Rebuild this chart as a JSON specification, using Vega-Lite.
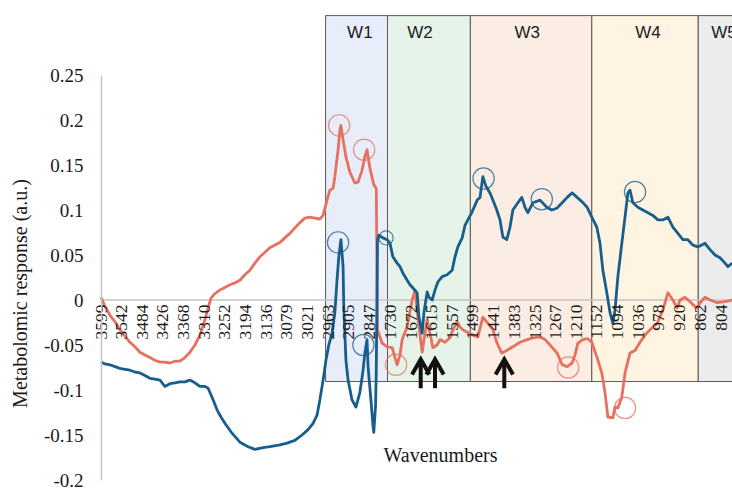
{
  "$schema": "https://vega.github.io/schema/vega-lite/v6.json",
  "width": 631,
  "height": 405,
  "autosize": "none",
  "padding": {"left": 101, "top": 75, "right": 0, "bottom": 10},
  "background": "white",
  "config": {"view": {"stroke": null}, "legend": {"disable": true}},
  "datasets": {
    "boxes": [
      {"name": "W1", "wn": 2970, "wn2": 1738, "v": 0.316, "v2": -0.0906},
      {"name": "W2", "wn": 1738, "wn2": 1506, "v": 0.316, "v2": -0.0906},
      {"name": "W3", "wn": 1506, "wn2": 1166, "v": 0.316, "v2": -0.0906},
      {"name": "W4", "wn": 1166, "wn2": 868, "v": 0.316, "v2": -0.0906},
      {"name": "W5", "wn": 868, "wn2": 700, "v": 0.316, "v2": -0.0906}
    ],
    "boxlabels": [
      {"name": "W1", "wn": 2874, "v": 0.297},
      {"name": "W2", "wn": 1647, "v": 0.297},
      {"name": "W3", "wn": 1347, "v": 0.297},
      {"name": "W4", "wn": 1009, "v": 0.297},
      {"name": "W5", "wn": 796, "v": 0.297}
    ],
    "zero": [{"wn": 3599, "v": 0}, {"wn": 740, "v": 0}],
    "arrows": [
      {"wn": 1645, "v": -0.082},
      {"wn": 1605, "v": -0.082},
      {"wn": 1411, "v": -0.082}
    ],
    "circles": [
      {"series": "s1", "wn": 2932, "v": 0.194},
      {"series": "s1", "wn": 2862, "v": 0.167},
      {"series": "s2", "wn": 2935, "v": 0.064},
      {"series": "s2", "wn": 2864, "v": -0.05},
      {"series": "s1", "wn": 1714, "v": -0.072},
      {"series": "s2", "wn": 1469, "v": 0.135},
      {"series": "s2", "wn": 1306, "v": 0.112},
      {"series": "s1", "wn": 1232, "v": -0.075},
      {"series": "s2", "wn": 1045, "v": 0.12},
      {"series": "s1", "wn": 1073, "v": -0.12}
    ],
    "smallcircles": [
      {"series": "s2", "wn": 1742, "v": 0.069}
    ],
    "spectra": [
      {"series": "s1", "wn": 3599, "v": 0.003},
      {"series": "s1", "wn": 3588, "v": -0.007},
      {"series": "s1", "wn": 3574, "v": -0.017},
      {"series": "s1", "wn": 3560, "v": -0.024},
      {"series": "s1", "wn": 3546, "v": -0.033},
      {"series": "s1", "wn": 3532, "v": -0.040},
      {"series": "s1", "wn": 3518, "v": -0.047},
      {"series": "s1", "wn": 3504, "v": -0.052},
      {"series": "s1", "wn": 3490, "v": -0.058},
      {"series": "s1", "wn": 3476, "v": -0.061},
      {"series": "s1", "wn": 3462, "v": -0.064},
      {"series": "s1", "wn": 3448, "v": -0.067},
      {"series": "s1", "wn": 3434, "v": -0.069},
      {"series": "s1", "wn": 3420, "v": -0.069},
      {"series": "s1", "wn": 3406, "v": -0.070},
      {"series": "s1", "wn": 3392, "v": -0.068},
      {"series": "s1", "wn": 3378, "v": -0.068},
      {"series": "s1", "wn": 3364, "v": -0.064},
      {"series": "s1", "wn": 3350, "v": -0.058},
      {"series": "s1", "wn": 3336, "v": -0.050},
      {"series": "s1", "wn": 3322, "v": -0.039},
      {"series": "s1", "wn": 3308, "v": -0.022},
      {"series": "s1", "wn": 3299, "v": -0.009},
      {"series": "s1", "wn": 3291, "v": 0.002},
      {"series": "s1", "wn": 3280, "v": 0.007},
      {"series": "s1", "wn": 3266, "v": 0.011},
      {"series": "s1", "wn": 3252, "v": 0.014},
      {"series": "s1", "wn": 3238, "v": 0.017},
      {"series": "s1", "wn": 3224, "v": 0.019},
      {"series": "s1", "wn": 3210, "v": 0.022},
      {"series": "s1", "wn": 3196, "v": 0.028},
      {"series": "s1", "wn": 3182, "v": 0.033},
      {"series": "s1", "wn": 3168, "v": 0.041},
      {"series": "s1", "wn": 3154, "v": 0.048},
      {"series": "s1", "wn": 3140, "v": 0.053},
      {"series": "s1", "wn": 3126, "v": 0.058},
      {"series": "s1", "wn": 3112, "v": 0.061},
      {"series": "s1", "wn": 3098, "v": 0.064},
      {"series": "s1", "wn": 3084, "v": 0.069},
      {"series": "s1", "wn": 3070, "v": 0.074},
      {"series": "s1", "wn": 3056, "v": 0.080},
      {"series": "s1", "wn": 3042, "v": 0.086},
      {"series": "s1", "wn": 3028, "v": 0.091},
      {"series": "s1", "wn": 3014, "v": 0.092},
      {"series": "s1", "wn": 3000, "v": 0.091},
      {"series": "s1", "wn": 2986, "v": 0.090},
      {"series": "s1", "wn": 2977, "v": 0.094},
      {"series": "s1", "wn": 2966, "v": 0.111},
      {"series": "s1", "wn": 2958, "v": 0.122},
      {"series": "s1", "wn": 2949, "v": 0.124},
      {"series": "s1", "wn": 2944, "v": 0.137},
      {"series": "s1", "wn": 2935, "v": 0.167},
      {"series": "s1", "wn": 2930, "v": 0.189},
      {"series": "s1", "wn": 2927, "v": 0.194},
      {"series": "s1", "wn": 2921, "v": 0.178},
      {"series": "s1", "wn": 2913, "v": 0.159},
      {"series": "s1", "wn": 2902, "v": 0.142},
      {"series": "s1", "wn": 2888, "v": 0.130},
      {"series": "s1", "wn": 2879, "v": 0.131},
      {"series": "s1", "wn": 2868, "v": 0.144},
      {"series": "s1", "wn": 2860, "v": 0.159},
      {"series": "s1", "wn": 2854, "v": 0.167},
      {"series": "s1", "wn": 2846, "v": 0.147},
      {"series": "s1", "wn": 2835, "v": 0.128},
      {"series": "s1", "wn": 2828, "v": 0.124},
      {"series": "s1", "wn": 1766, "v": -0.033},
      {"series": "s1", "wn": 1753, "v": -0.048},
      {"series": "s1", "wn": 1739, "v": -0.052},
      {"series": "s1", "wn": 1725, "v": -0.053},
      {"series": "s1", "wn": 1717, "v": -0.064},
      {"series": "s1", "wn": 1711, "v": -0.072},
      {"series": "s1", "wn": 1703, "v": -0.061},
      {"series": "s1", "wn": 1697, "v": -0.044},
      {"series": "s1", "wn": 1683, "v": -0.030},
      {"series": "s1", "wn": 1669, "v": 0.000},
      {"series": "s1", "wn": 1661, "v": 0.011},
      {"series": "s1", "wn": 1653, "v": -0.019},
      {"series": "s1", "wn": 1641, "v": -0.058},
      {"series": "s1", "wn": 1633, "v": -0.037},
      {"series": "s1", "wn": 1627, "v": -0.022},
      {"series": "s1", "wn": 1619, "v": -0.037},
      {"series": "s1", "wn": 1611, "v": -0.053},
      {"series": "s1", "wn": 1599, "v": -0.050},
      {"series": "s1", "wn": 1591, "v": -0.044},
      {"series": "s1", "wn": 1577, "v": -0.047},
      {"series": "s1", "wn": 1563, "v": -0.042},
      {"series": "s1", "wn": 1555, "v": -0.033},
      {"series": "s1", "wn": 1543, "v": -0.024},
      {"series": "s1", "wn": 1535, "v": -0.030},
      {"series": "s1", "wn": 1527, "v": -0.033},
      {"series": "s1", "wn": 1513, "v": -0.036},
      {"series": "s1", "wn": 1499, "v": -0.039},
      {"series": "s1", "wn": 1485, "v": -0.041},
      {"series": "s1", "wn": 1471, "v": -0.019},
      {"series": "s1", "wn": 1457, "v": -0.026},
      {"series": "s1", "wn": 1443, "v": -0.033},
      {"series": "s1", "wn": 1432, "v": -0.047},
      {"series": "s1", "wn": 1418, "v": -0.059},
      {"series": "s1", "wn": 1404, "v": -0.056},
      {"series": "s1", "wn": 1387, "v": -0.052},
      {"series": "s1", "wn": 1367, "v": -0.047},
      {"series": "s1", "wn": 1347, "v": -0.044},
      {"series": "s1", "wn": 1331, "v": -0.042},
      {"series": "s1", "wn": 1311, "v": -0.041},
      {"series": "s1", "wn": 1297, "v": -0.044},
      {"series": "s1", "wn": 1283, "v": -0.050},
      {"series": "s1", "wn": 1263, "v": -0.059},
      {"series": "s1", "wn": 1249, "v": -0.072},
      {"series": "s1", "wn": 1235, "v": -0.074},
      {"series": "s1", "wn": 1221, "v": -0.070},
      {"series": "s1", "wn": 1213, "v": -0.061},
      {"series": "s1", "wn": 1205, "v": -0.048},
      {"series": "s1", "wn": 1191, "v": -0.044},
      {"series": "s1", "wn": 1177, "v": -0.043},
      {"series": "s1", "wn": 1166, "v": -0.047},
      {"series": "s1", "wn": 1152, "v": -0.063},
      {"series": "s1", "wn": 1138, "v": -0.081},
      {"series": "s1", "wn": 1129, "v": -0.103},
      {"series": "s1", "wn": 1121, "v": -0.130},
      {"series": "s1", "wn": 1107, "v": -0.131},
      {"series": "s1", "wn": 1101, "v": -0.119},
      {"series": "s1", "wn": 1093, "v": -0.120},
      {"series": "s1", "wn": 1082, "v": -0.108},
      {"series": "s1", "wn": 1073, "v": -0.081},
      {"series": "s1", "wn": 1059, "v": -0.059},
      {"series": "s1", "wn": 1045, "v": -0.056},
      {"series": "s1", "wn": 1031, "v": -0.047},
      {"series": "s1", "wn": 1017, "v": -0.039},
      {"series": "s1", "wn": 1003, "v": -0.033},
      {"series": "s1", "wn": 983, "v": -0.026},
      {"series": "s1", "wn": 967, "v": -0.011},
      {"series": "s1", "wn": 953, "v": 0.008},
      {"series": "s1", "wn": 939, "v": 0.000},
      {"series": "s1", "wn": 927, "v": -0.009},
      {"series": "s1", "wn": 919, "v": 0.000},
      {"series": "s1", "wn": 905, "v": 0.003},
      {"series": "s1", "wn": 891, "v": -0.002},
      {"series": "s1", "wn": 872, "v": -0.009},
      {"series": "s1", "wn": 863, "v": -0.003},
      {"series": "s1", "wn": 849, "v": 0.003},
      {"series": "s1", "wn": 835, "v": 0.000},
      {"series": "s1", "wn": 815, "v": -0.003},
      {"series": "s1", "wn": 798, "v": -0.002},
      {"series": "s1", "wn": 773, "v": 0.000},
      {"series": "s2", "wn": 3599, "v": -0.069},
      {"series": "s2", "wn": 3588, "v": -0.071},
      {"series": "s2", "wn": 3574, "v": -0.072},
      {"series": "s2", "wn": 3560, "v": -0.074},
      {"series": "s2", "wn": 3546, "v": -0.076},
      {"series": "s2", "wn": 3532, "v": -0.077},
      {"series": "s2", "wn": 3518, "v": -0.078},
      {"series": "s2", "wn": 3504, "v": -0.080},
      {"series": "s2", "wn": 3490, "v": -0.081},
      {"series": "s2", "wn": 3476, "v": -0.084},
      {"series": "s2", "wn": 3462, "v": -0.087},
      {"series": "s2", "wn": 3448, "v": -0.088},
      {"series": "s2", "wn": 3434, "v": -0.089},
      {"series": "s2", "wn": 3420, "v": -0.096},
      {"series": "s2", "wn": 3406, "v": -0.093},
      {"series": "s2", "wn": 3392, "v": -0.092},
      {"series": "s2", "wn": 3378, "v": -0.091},
      {"series": "s2", "wn": 3364, "v": -0.091},
      {"series": "s2", "wn": 3350, "v": -0.089},
      {"series": "s2", "wn": 3336, "v": -0.092},
      {"series": "s2", "wn": 3322, "v": -0.096},
      {"series": "s2", "wn": 3308, "v": -0.096},
      {"series": "s2", "wn": 3299, "v": -0.098},
      {"series": "s2", "wn": 3288, "v": -0.108},
      {"series": "s2", "wn": 3274, "v": -0.122},
      {"series": "s2", "wn": 3263, "v": -0.130},
      {"series": "s2", "wn": 3252, "v": -0.137},
      {"series": "s2", "wn": 3232, "v": -0.148},
      {"series": "s2", "wn": 3210, "v": -0.158},
      {"series": "s2", "wn": 3187, "v": -0.163},
      {"series": "s2", "wn": 3168, "v": -0.166},
      {"series": "s2", "wn": 3145, "v": -0.164},
      {"series": "s2", "wn": 3126, "v": -0.163},
      {"series": "s2", "wn": 3098, "v": -0.161},
      {"series": "s2", "wn": 3078, "v": -0.159},
      {"series": "s2", "wn": 3056, "v": -0.156},
      {"series": "s2", "wn": 3036, "v": -0.150},
      {"series": "s2", "wn": 3019, "v": -0.144},
      {"series": "s2", "wn": 3005, "v": -0.137},
      {"series": "s2", "wn": 2994, "v": -0.128},
      {"series": "s2", "wn": 2986, "v": -0.111},
      {"series": "s2", "wn": 2977, "v": -0.089},
      {"series": "s2", "wn": 2969, "v": -0.067},
      {"series": "s2", "wn": 2961, "v": -0.050},
      {"series": "s2", "wn": 2952, "v": -0.037},
      {"series": "s2", "wn": 2944, "v": -0.014},
      {"series": "s2", "wn": 2938, "v": 0.022},
      {"series": "s2", "wn": 2933, "v": 0.048},
      {"series": "s2", "wn": 2927, "v": 0.067},
      {"series": "s2", "wn": 2921, "v": 0.037},
      {"series": "s2", "wn": 2919, "v": -0.008},
      {"series": "s2", "wn": 2913, "v": -0.067},
      {"series": "s2", "wn": 2907, "v": -0.089},
      {"series": "s2", "wn": 2896, "v": -0.111},
      {"series": "s2", "wn": 2885, "v": -0.119},
      {"series": "s2", "wn": 2874, "v": -0.103},
      {"series": "s2", "wn": 2865, "v": -0.078},
      {"series": "s2", "wn": 2860, "v": -0.059},
      {"series": "s2", "wn": 2854, "v": -0.044},
      {"series": "s2", "wn": 2851, "v": -0.074},
      {"series": "s2", "wn": 2843, "v": -0.111},
      {"series": "s2", "wn": 2837, "v": -0.141},
      {"series": "s2", "wn": 2835, "v": -0.147},
      {"series": "s2", "wn": 2830, "v": -0.117},
      {"series": "s2", "wn": 2828, "v": -0.078},
      {"series": "s2", "wn": 1766, "v": 0.067},
      {"series": "s2", "wn": 1762, "v": 0.072},
      {"series": "s2", "wn": 1751, "v": 0.069},
      {"series": "s2", "wn": 1739, "v": 0.067},
      {"series": "s2", "wn": 1731, "v": 0.063},
      {"series": "s2", "wn": 1723, "v": 0.048},
      {"series": "s2", "wn": 1711, "v": 0.041},
      {"series": "s2", "wn": 1703, "v": 0.037},
      {"series": "s2", "wn": 1695, "v": 0.030},
      {"series": "s2", "wn": 1683, "v": 0.022},
      {"series": "s2", "wn": 1675, "v": 0.017},
      {"series": "s2", "wn": 1666, "v": 0.013},
      {"series": "s2", "wn": 1655, "v": 0.008},
      {"series": "s2", "wn": 1650, "v": -0.019},
      {"series": "s2", "wn": 1641, "v": -0.037},
      {"series": "s2", "wn": 1636, "v": -0.014},
      {"series": "s2", "wn": 1627, "v": 0.009},
      {"series": "s2", "wn": 1622, "v": 0.003},
      {"series": "s2", "wn": 1613, "v": 0.000},
      {"series": "s2", "wn": 1605, "v": 0.011},
      {"series": "s2", "wn": 1597, "v": 0.020},
      {"series": "s2", "wn": 1585, "v": 0.026},
      {"series": "s2", "wn": 1571, "v": 0.028},
      {"series": "s2", "wn": 1557, "v": 0.033},
      {"series": "s2", "wn": 1549, "v": 0.048},
      {"series": "s2", "wn": 1541, "v": 0.059},
      {"series": "s2", "wn": 1529, "v": 0.069},
      {"series": "s2", "wn": 1521, "v": 0.083},
      {"series": "s2", "wn": 1513, "v": 0.089},
      {"series": "s2", "wn": 1501, "v": 0.098},
      {"series": "s2", "wn": 1487, "v": 0.111},
      {"series": "s2", "wn": 1479, "v": 0.114},
      {"series": "s2", "wn": 1471, "v": 0.137},
      {"series": "s2", "wn": 1462, "v": 0.126},
      {"series": "s2", "wn": 1451, "v": 0.119},
      {"series": "s2", "wn": 1443, "v": 0.111},
      {"series": "s2", "wn": 1432, "v": 0.100},
      {"series": "s2", "wn": 1423, "v": 0.089},
      {"series": "s2", "wn": 1415, "v": 0.070},
      {"series": "s2", "wn": 1404, "v": 0.067},
      {"series": "s2", "wn": 1395, "v": 0.081},
      {"series": "s2", "wn": 1387, "v": 0.100},
      {"series": "s2", "wn": 1373, "v": 0.108},
      {"series": "s2", "wn": 1362, "v": 0.114},
      {"series": "s2", "wn": 1353, "v": 0.103},
      {"series": "s2", "wn": 1345, "v": 0.097},
      {"series": "s2", "wn": 1331, "v": 0.108},
      {"series": "s2", "wn": 1311, "v": 0.111},
      {"series": "s2", "wn": 1292, "v": 0.103},
      {"series": "s2", "wn": 1278, "v": 0.100},
      {"series": "s2", "wn": 1264, "v": 0.102},
      {"series": "s2", "wn": 1249, "v": 0.108},
      {"series": "s2", "wn": 1235, "v": 0.114},
      {"series": "s2", "wn": 1221, "v": 0.119},
      {"series": "s2", "wn": 1207, "v": 0.114},
      {"series": "s2", "wn": 1193, "v": 0.109},
      {"series": "s2", "wn": 1179, "v": 0.103},
      {"series": "s2", "wn": 1166, "v": 0.092},
      {"series": "s2", "wn": 1152, "v": 0.081},
      {"series": "s2", "wn": 1143, "v": 0.063},
      {"series": "s2", "wn": 1135, "v": 0.033},
      {"series": "s2", "wn": 1124, "v": 0.008},
      {"series": "s2", "wn": 1115, "v": -0.014},
      {"series": "s2", "wn": 1107, "v": -0.026},
      {"series": "s2", "wn": 1101, "v": -0.011},
      {"series": "s2", "wn": 1093, "v": 0.026},
      {"series": "s2", "wn": 1082, "v": 0.063},
      {"series": "s2", "wn": 1073, "v": 0.092},
      {"series": "s2", "wn": 1065, "v": 0.119},
      {"series": "s2", "wn": 1059, "v": 0.122},
      {"series": "s2", "wn": 1051, "v": 0.108},
      {"series": "s2", "wn": 1037, "v": 0.103},
      {"series": "s2", "wn": 1023, "v": 0.100},
      {"series": "s2", "wn": 1009, "v": 0.097},
      {"series": "s2", "wn": 995, "v": 0.094},
      {"series": "s2", "wn": 981, "v": 0.089},
      {"series": "s2", "wn": 967, "v": 0.089},
      {"series": "s2", "wn": 953, "v": 0.092},
      {"series": "s2", "wn": 939, "v": 0.081},
      {"series": "s2", "wn": 925, "v": 0.074},
      {"series": "s2", "wn": 911, "v": 0.067},
      {"series": "s2", "wn": 897, "v": 0.067},
      {"series": "s2", "wn": 883, "v": 0.061},
      {"series": "s2", "wn": 869, "v": 0.059},
      {"series": "s2", "wn": 849, "v": 0.063},
      {"series": "s2", "wn": 835, "v": 0.056},
      {"series": "s2", "wn": 821, "v": 0.050},
      {"series": "s2", "wn": 807, "v": 0.047},
      {"series": "s2", "wn": 793, "v": 0.041},
      {"series": "s2", "wn": 785, "v": 0.037},
      {"series": "s2", "wn": 773, "v": 0.041}
    ]
  },
  "encoding": {
    "x": {
      "field": "wn",
      "type": "quantitative",
      "scale": {"domain": [3599, 2826, 1766, 804], "range": [0, 276, 276.5, 620.1], "nice": false, "zero": false},
      "axis": {
        "values": [3599, 3542, 3484, 3426, 3368, 3310, 3252, 3194, 3136, 3079, 3021, 2963, 2905, 2847, 1730, 1672, 1615, 1557, 1499, 1441, 1383, 1325, 1267, 1210, 1152, 1094, 1036, 978, 920, 862, 804],
        "offset": -180,
        "domain": false,
        "ticks": false,
        "tickSize": 0,
        "grid": false,
        "labelAngle": -90,
        "labelAlign": "right",
        "labelBaseline": "middle",
        "labelPadding": 4,
        "labelFont": "Liberation Serif, Times New Roman, DejaVu Serif, serif",
        "labelFontSize": 17.5,
        "labelColor": "#1a1a1a",
        "labelOverlap": false,
        "labelFlush": false,
        "labelBound": false,
        "labelExpr": "'' + datum.value",
        "title": "Wavenumbers",
        "titleFont": "Liberation Serif, Times New Roman, DejaVu Serif, serif",
        "titleFontSize": 20,
        "titleFontWeight": "normal",
        "titleColor": "#1a1a1a",
        "titleX": 339,
        "titleY": 155,
        "titleAlign": "center",
        "titleBaseline": "middle",
        "titleAngle": 0,
        "zindex": 1
      }
    },
    "y": {
      "field": "v",
      "type": "quantitative",
      "scale": {"domain": [-0.2, 0.25], "nice": false, "zero": false},
      "axis": {
        "values": [-0.2, -0.15, -0.1, -0.05, 0, 0.05, 0.1, 0.15, 0.2, 0.25],
        "labelExpr": "'' + datum.value",
        "domain": true,
        "domainColor": "#c4c4c4",
        "domainWidth": 1.5,
        "ticks": false,
        "tickSize": 0,
        "grid": false,
        "labelPadding": 18,
        "labelFont": "Liberation Serif, Times New Roman, DejaVu Serif, serif",
        "labelFontSize": 19,
        "labelColor": "#1a1a1a",
        "labelOverlap": false,
        "labelFlush": false,
        "title": "Metabolomic response (a.u.)",
        "titleFont": "Liberation Serif, Times New Roman, DejaVu Serif, serif",
        "titleFontSize": 20,
        "titleFontWeight": "normal",
        "titleColor": "#1a1a1a",
        "titleX": -81,
        "titleY": 218,
        "titleAngle": -90,
        "titleAlign": "center",
        "titleBaseline": "middle",
        "zindex": 1
      }
    }
  },
  "layer": [
    {
      "data": {"name": "boxes"},
      "mark": {"type": "rect", "stroke": "#595959", "strokeWidth": 1},
      "encoding": {
        "x2": {"field": "wn2"},
        "y2": {"field": "v2"},
        "fill": {
          "field": "name",
          "type": "nominal",
          "scale": {"domain": ["W1", "W2", "W3", "W4", "W5"], "range": ["#e8eef9", "#e6f3e8", "#fcede4", "#fff4e1", "#ececec"]},
          "legend": null
        }
      }
    },
    {
      "data": {"name": "zero"},
      "mark": {"type": "line", "color": "#c4c4c4", "strokeWidth": 1.3},
      "encoding": {}
    },
    {
      "data": {"name": "spectra"},
      "mark": {"type": "line", "strokeWidth": 2.8, "strokeJoin": "round"},
      "encoding": {
        "color": {
          "field": "series",
          "type": "nominal",
          "scale": {"domain": ["s1", "s2"], "range": ["#e8705f", "#175e8c"]},
          "legend": null
        }
      }
    },
    {
      "data": {"name": "circles"},
      "mark": {"type": "point", "shape": "circle", "filled": false, "size": 452, "strokeWidth": 1.2, "opacity": 0.75},
      "encoding": {
        "color": {"field": "series", "type": "nominal", "legend": null}
      }
    },
    {
      "data": {"name": "smallcircles"},
      "mark": {"type": "point", "shape": "circle", "filled": false, "size": 201, "strokeWidth": 1.2, "opacity": 0.75},
      "encoding": {
        "color": {"field": "series", "type": "nominal", "legend": null}
      }
    },
    {
      "data": {"name": "arrows"},
      "mark": {"type": "point", "shape": "M0,1L0,-1M-0.6,0.05L0,-1L0.6,0.05", "filled": false, "size": 841, "stroke": "#111111", "strokeWidth": 4, "strokeCap": "butt", "strokeJoin": "miter", "opacity": 1}
    },
    {
      "data": {"name": "boxlabels"},
      "mark": {"type": "text", "font": "Liberation Sans", "fontSize": 17, "color": "#1a1a1a", "align": "center", "baseline": "middle"},
      "encoding": {"text": {"field": "name"}}
    }
  ]
}
